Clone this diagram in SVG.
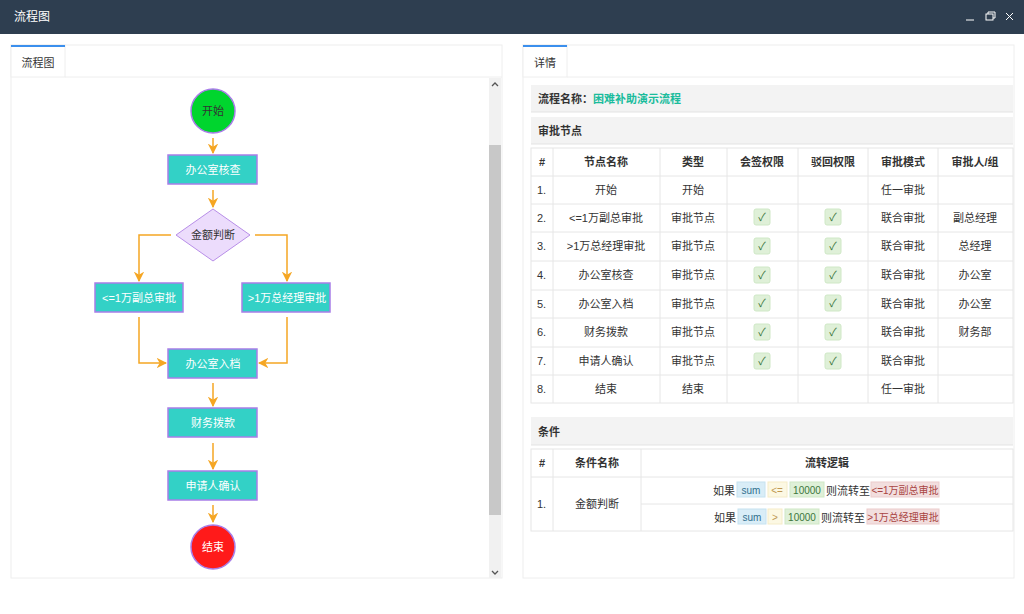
<svg xmlns="http://www.w3.org/2000/svg" width="1024" height="614" viewBox="0 0 1024 614">
<defs>
<style>
text{font-family:"Liberation Sans","Noto Sans CJK SC",sans-serif;font-size:11px;fill:#333}
.w{fill:#fff}
.c{text-anchor:middle}
.b{font-weight:bold}
.box{fill:#33d1c6;stroke:#a87ee8;stroke-width:1.5}
.ln{fill:none;stroke:#f5a623;stroke-width:1.5}
.g line{stroke:#e6e6e6;stroke-width:1}
.ck{fill:#dff0d8;stroke:#cfe8c6}
</style>
<marker id="a" viewBox="0 0 10 10" refX="9" refY="5" markerWidth="7" markerHeight="7" orient="auto"><path d="M0,0L10,5L0,10L3,5z" fill="#f5a623"/></marker>
</defs>
<rect width="1024" height="614" fill="#f5f5f5"/>
<rect width="1024" height="34" fill="#2e3e50"/>
<text x="14" y="21" class="w" style="font-size:12px">流程图</text>
<g stroke="#fff" stroke-width="1" fill="none"><line x1="966" y1="20" x2="974" y2="20"/><rect x="986" y="14" width="7" height="6"/><path d="M988,14v-2h7v6h-2"/><path d="M1006,13l7,7M1013,13l-7,7"/></g>
<rect x="0" y="34" width="1024" height="580" fill="#fff"/>
<!-- left panel -->
<rect x="11" y="45" width="491" height="533" fill="#fff" stroke="#eee"/>
<rect x="11" y="45" width="54" height="32" fill="#fff" stroke="#eee"/>
<rect x="11" y="45" width="54" height="2" fill="#3b8fed"/>
<text x="38" y="67" class="c">流程图</text>
<line x1="65" y1="77" x2="502" y2="77" stroke="#eee"/>
<rect x="489" y="78" width="12" height="500" fill="#f1f1f1"/>
<rect x="489" y="145" width="12" height="370" fill="#c8c8c8"/>
<path d="M492,86l3,-3l3,3M492,571l3,3l3,-3" stroke="#555" fill="none" stroke-width="1.3"/>
<g id="connectors">
<path class="ln" marker-end="url(#a)" d="M213,138V153"/>
<path class="ln" marker-end="url(#a)" d="M213,190V207"/>
<path class="ln" marker-end="url(#a)" d="M171,235H139V281"/>
<path class="ln" marker-end="url(#a)" d="M255,235H287V281"/>
<path class="ln" marker-end="url(#a)" d="M139,317V363H166"/>
<path class="ln" marker-end="url(#a)" d="M287,317V363H259"/>
<path class="ln" marker-end="url(#a)" d="M213,383V406"/>
<path class="ln" marker-end="url(#a)" d="M213,443V469"/>
<path class="ln" marker-end="url(#a)" d="M213,505V522"/>
</g>
<g id="start"><circle cx="213" cy="111" r="22" fill="#00d52e" stroke="#a87ee8" stroke-width="1.5"/><text x="213" y="115" class="c">开始</text></g>
<g id="n1"><rect class="box" x="168" y="155" width="89" height="29"/><text x="213" y="174" class="c w">办公室核查</text></g>
<g id="d1"><path d="M213,209L250,235L213,261L176,235z" fill="#ecdcfc" stroke="#b88ee8"/><text x="213" y="239" class="c">金额判断</text></g>
<g id="n2"><rect class="box" x="95" y="283" width="88" height="29"/><text x="139" y="302" class="c w">&lt;=1万副总审批</text></g>
<g id="n3"><rect class="box" x="242" y="283" width="88" height="29"/><text x="287" y="302" class="c w">&gt;1万总经理审批</text></g>
<g id="n4"><rect class="box" x="168" y="349" width="89" height="29"/><text x="213" y="368" class="c w">办公室入档</text></g>
<g id="n5"><rect class="box" x="168" y="408" width="89" height="29"/><text x="213" y="427" class="c w">财务拨款</text></g>
<g id="n6"><rect class="box" x="168" y="471" width="89" height="29"/><text x="213" y="490" class="c w">申请人确认</text></g>
<g id="end"><circle cx="213" cy="547" r="22" fill="#ff1a1a" stroke="#a87ee8" stroke-width="1.5"/><text x="213" y="551" class="c w">结束</text></g>
<!-- right panel -->
<rect x="523" y="45" width="491" height="533" fill="#fff" stroke="#eee"/>
<rect x="523" y="45" width="44" height="32" fill="#fff" stroke="#eee"/>
<rect x="523" y="45" width="44" height="2" fill="#3b8fed"/>
<text x="545" y="67" class="c">详情</text>
<line x1="567" y1="77" x2="1014" y2="77" stroke="#eee"/>
<rect x="531" y="85" width="482" height="27" fill="#f3f3f3"/><line x1="531" y1="112" x2="1013" y2="112" stroke="#e3e3e3"/>
<text x="538" y="103" class="b">流程名称：<tspan style="fill:#1abc9c">困难补助演示流程</tspan></text>
<rect x="531" y="117" width="482" height="27" fill="#f3f3f3"/><line x1="531" y1="144" x2="1013" y2="144" stroke="#e3e3e3"/>
<text x="538" y="135" class="b">审批节点</text>
<g class="g">
<rect x="531" y="148" width="482" height="255" fill="none" stroke="#e6e6e6"/>
<line x1="531" y1="176" x2="1013" y2="176"/><line x1="531" y1="204" x2="1013" y2="204"/><line x1="531" y1="232" x2="1013" y2="232"/><line x1="531" y1="261" x2="1013" y2="261"/><line x1="531" y1="290" x2="1013" y2="290"/><line x1="531" y1="318" x2="1013" y2="318"/><line x1="531" y1="347" x2="1013" y2="347"/><line x1="531" y1="375" x2="1013" y2="375"/>
<line x1="553" y1="148" x2="553" y2="403"/><line x1="660" y1="148" x2="660" y2="403"/><line x1="727" y1="148" x2="727" y2="403"/><line x1="798" y1="148" x2="798" y2="403"/><line x1="868" y1="148" x2="868" y2="403"/><line x1="938" y1="148" x2="938" y2="403"/>
</g>
<g class="b"><text x="542" y="166" class="c b">#</text><text x="606" y="166" class="c b">节点名称</text><text x="693" y="166" class="c b">类型</text><text x="762" y="166" class="c b">会签权限</text><text x="833" y="166" class="c b">驳回权限</text><text x="903" y="166" class="c b">审批模式</text><text x="975" y="166" class="c b">审批人/组</text></g>
<g id="rows">
<text x="537" y="194">1.</text><text x="606" y="194" class="c">开始</text><text x="693" y="194" class="c">开始</text><text x="903" y="194" class="c">任一审批</text>
<text x="537" y="222">2.</text><text x="606" y="222" class="c">&lt;=1万副总审批</text><text x="693" y="222" class="c">审批节点</text><text x="903" y="222" class="c">联合审批</text><text x="975" y="222" class="c">副总经理</text>
<text x="537" y="250">3.</text><text x="606" y="250" class="c">&gt;1万总经理审批</text><text x="693" y="250" class="c">审批节点</text><text x="903" y="250" class="c">联合审批</text><text x="975" y="250" class="c">总经理</text>
<text x="537" y="279">4.</text><text x="606" y="279" class="c">办公室核查</text><text x="693" y="279" class="c">审批节点</text><text x="903" y="279" class="c">联合审批</text><text x="975" y="279" class="c">办公室</text>
<text x="537" y="308">5.</text><text x="606" y="308" class="c">办公室入档</text><text x="693" y="308" class="c">审批节点</text><text x="903" y="308" class="c">联合审批</text><text x="975" y="308" class="c">办公室</text>
<text x="537" y="336">6.</text><text x="606" y="336" class="c">财务拨款</text><text x="693" y="336" class="c">审批节点</text><text x="903" y="336" class="c">联合审批</text><text x="975" y="336" class="c">财务部</text>
<text x="537" y="365">7.</text><text x="606" y="365" class="c">申请人确认</text><text x="693" y="365" class="c">审批节点</text><text x="903" y="365" class="c">联合审批</text>
<text x="537" y="393">8.</text><text x="606" y="393" class="c">结束</text><text x="693" y="393" class="c">结束</text><text x="903" y="393" class="c">任一审批</text>
</g>
<g id="checks">
<rect class="ck" x="754" y="209" width="16" height="16" rx="2"/><rect class="ck" x="825" y="209" width="16" height="16" rx="2"/>
<rect class="ck" x="754" y="238" width="16" height="16" rx="2"/><rect class="ck" x="825" y="238" width="16" height="16" rx="2"/>
<rect class="ck" x="754" y="267" width="16" height="16" rx="2"/><rect class="ck" x="825" y="267" width="16" height="16" rx="2"/>
<rect class="ck" x="754" y="295" width="16" height="16" rx="2"/><rect class="ck" x="825" y="295" width="16" height="16" rx="2"/>
<rect class="ck" x="754" y="324" width="16" height="16" rx="2"/><rect class="ck" x="825" y="324" width="16" height="16" rx="2"/>
<rect class="ck" x="754" y="353" width="16" height="16" rx="2"/><rect class="ck" x="825" y="353" width="16" height="16" rx="2"/>
<g style="fill:#3c763d;font-size:10px;text-anchor:middle">
<text x="762" y="221" style="fill:#3c763d">✓</text><text x="833" y="221" style="fill:#3c763d">✓</text>
<text x="762" y="250" style="fill:#3c763d">✓</text><text x="833" y="250" style="fill:#3c763d">✓</text>
<text x="762" y="279" style="fill:#3c763d">✓</text><text x="833" y="279" style="fill:#3c763d">✓</text>
<text x="762" y="307" style="fill:#3c763d">✓</text><text x="833" y="307" style="fill:#3c763d">✓</text>
<text x="762" y="336" style="fill:#3c763d">✓</text><text x="833" y="336" style="fill:#3c763d">✓</text>
<text x="762" y="365" style="fill:#3c763d">✓</text><text x="833" y="365" style="fill:#3c763d">✓</text>
</g>
</g>
<rect x="531" y="417" width="482" height="28" fill="#f3f3f3"/><line x1="531" y1="445" x2="1013" y2="445" stroke="#e3e3e3"/>
<text x="538" y="436" class="b">条件</text>
<g class="g">
<rect x="531" y="449" width="482" height="82" fill="none" stroke="#e6e6e6"/>
<line x1="531" y1="477" x2="1013" y2="477"/><line x1="641" y1="504" x2="1013" y2="504"/>
<line x1="553" y1="449" x2="553" y2="531"/><line x1="641" y1="449" x2="641" y2="531"/>
</g>
<text x="542" y="467" class="c b">#</text><text x="597" y="467" class="c b">条件名称</text><text x="827" y="467" class="c b">流转逻辑</text>
<text x="537" y="508">1.</text><text x="597" y="508" class="c">金额判断</text>
<g id="cond">
<text x="713" y="495">如果</text>
<rect x="737" y="482" width="28" height="15" fill="#d9edf7" stroke="#c6e2f0"/><text x="751" y="494" class="c" style="font-size:10px;fill:#31708f">sum</text>
<rect x="768" y="482" width="19" height="15" fill="#fcf8e3" stroke="#f5ecc8"/><text x="777" y="494" class="c" style="font-size:10px;fill:#c09853">&lt;=</text>
<rect x="790" y="482" width="34" height="15" fill="#dff0d8" stroke="#cfe8c6"/><text x="807" y="494" class="c" style="font-size:10px;fill:#3c763d">10000</text>
<text x="826" y="495">则流转至</text>
<rect x="871" y="482" width="68" height="15" fill="#f2dede" stroke="#ebcccc"/><text x="905" y="494" class="c" style="font-size:10px;fill:#a94442">&lt;=1万副总审批</text>
<text x="714" y="522">如果</text>
<rect x="738" y="509" width="28" height="15" fill="#d9edf7" stroke="#c6e2f0"/><text x="752" y="521" class="c" style="font-size:10px;fill:#31708f">sum</text>
<rect x="768" y="509" width="14" height="15" fill="#fcf8e3" stroke="#f5ecc8"/><text x="775" y="521" class="c" style="font-size:10px;fill:#c09853">&gt;</text>
<rect x="785" y="509" width="34" height="15" fill="#dff0d8" stroke="#cfe8c6"/><text x="802" y="521" class="c" style="font-size:10px;fill:#3c763d">10000</text>
<text x="821" y="522">则流转至</text>
<rect x="867" y="509" width="72" height="15" fill="#f2dede" stroke="#ebcccc"/><text x="903" y="521" class="c" style="font-size:10px;fill:#a94442">&gt;1万总经理审批</text>
</g>
</svg>
